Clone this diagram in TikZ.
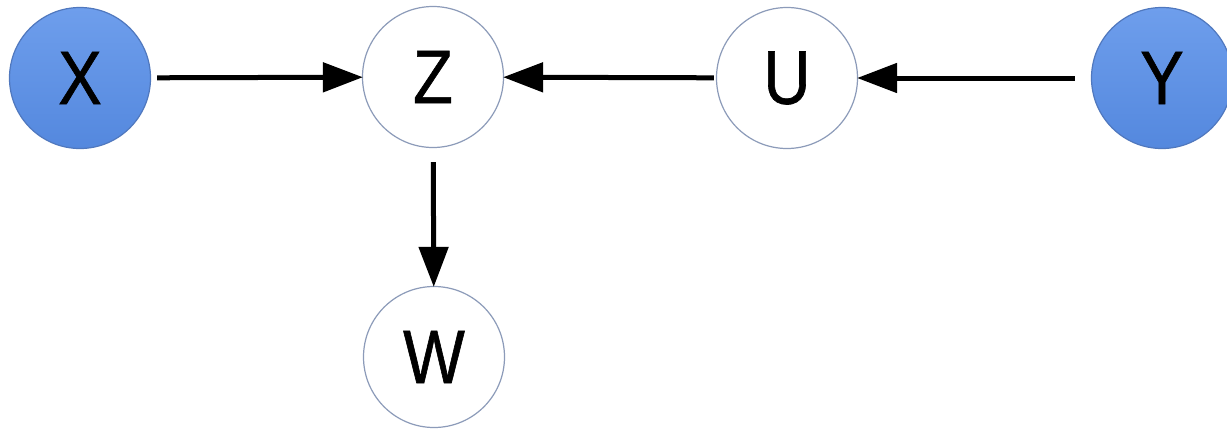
\documentclass[tikz,border=0pt]{standalone}
\usepackage{fontspec}
\setmainfont{Liberation Sans}
\newfontfamily\lblfont[FakeBold=0.9]{Liberation Sans}
\usetikzlibrary{arrows.meta}
\definecolor{rimgray}{RGB}{140,155,185}
\definecolor{bluetop}{RGB}{110,158,236}
\definecolor{bluebot}{RGB}{84,136,222}
\definecolor{bluerim}{RGB}{80,120,190}
\newcommand{\lbltext}[1]{\scalebox{0.86}[1]{#1}}
\begin{document}
\begin{tikzpicture}[x=1pt,y=-1pt,
  var/.style={circle, minimum size=141pt, inner sep=0pt, draw=rimgray, line width=1.2pt,
    font=\lblfont\fontsize{76}{76}\selectfont, text=black},
  obs/.style={var, draw=bluerim, top color=bluetop, bottom color=bluebot},
  edge/.style={line width=5pt, -{Triangle[length=40pt,width=29pt]}, shorten >=-1pt}]
\useasboundingbox (0,0) rectangle (1227,432);
\fill[white] (0,0) rectangle (1227,432);
\node[obs] (X) at (80,78) {\lbltext{X}};
\node[var] (Z) at (433,77) {\lbltext{Z}};
\node[var] (U) at (787,78) {\lbltext{U}};
\node[obs] (Y) at (1162,78) {\lbltext{Y}};
\node[var] (W) at (434,357) {\lbltext{W}};
\draw[edge, shorten <=6pt] (X) -- (Z);
\draw[edge, shorten <=2pt] (U) -- (Z);
\draw[edge, shorten <=16pt] (Y) -- (U);
\draw[edge, shorten <=14pt] (Z) -- (W);
\end{tikzpicture}
\end{document}
